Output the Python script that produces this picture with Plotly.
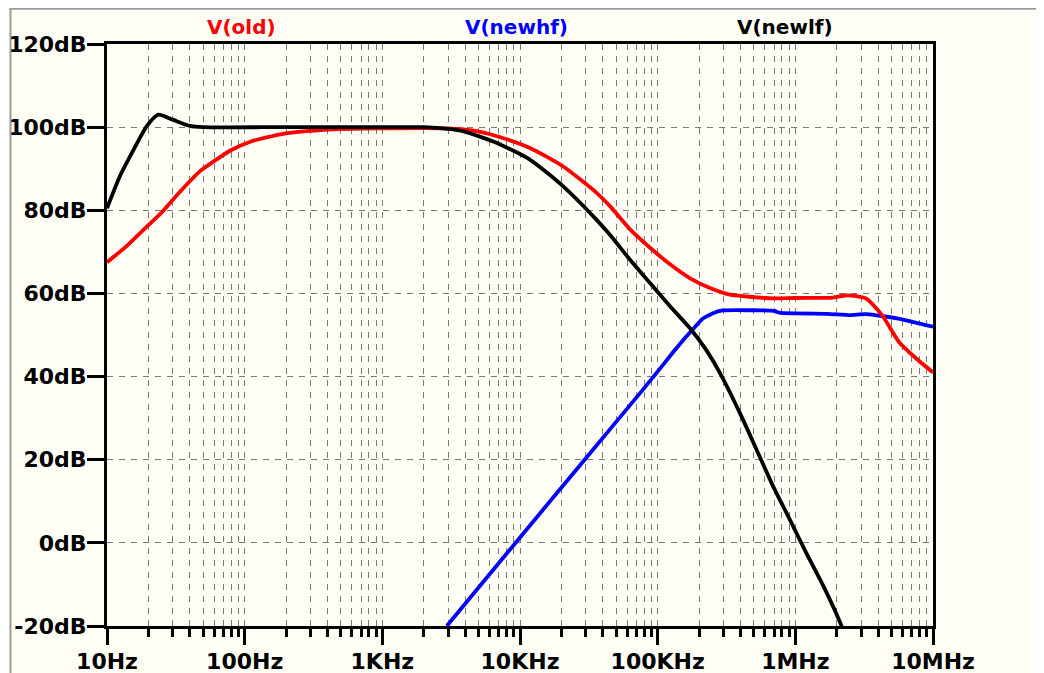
import plotly.graph_objects as go

# ---------------- data ----------------
old_freq = [10, 14, 18.4, 25, 34, 47, 63, 80, 110, 190, 300, 500, 1000, 3000, 4500,
            6800, 11800, 20500, 36000, 45000, 63000, 88000, 123000, 171000, 240000, 334000, 467000,
            700000, 1.0e6, 1.87e6, 2.3e6, 2.7e6, 3.3e6, 4.3e6, 5.7e6, 7.7e6, 1.0e7]
old_db = [67.5, 71.5, 75.3, 79.5, 84.5, 89.3, 92.3, 94.5, 96.5, 98.4, 99.1, 99.5, 99.7, 99.7, 99.2,
          97.8, 95.0, 90.6, 84.2, 81.0, 75.4, 71.0, 67.0, 63.7, 61.3, 59.7, 59.2,
          58.8, 58.9, 59.0, 59.5, 59.4, 58.7, 54.6, 48.2, 44.1, 41.0]

newhf_freq = [2940, 10000, 30000, 74000, 104000, 129000, 160000, 185000, 210000, 250000, 297000,
              700000, 780000, 1.69e6, 2.5e6, 3.3e6, 5.7e6, 1.0e7]
newhf_db = [-20.0, 1.3, 20.3, 35.9, 41.9, 45.8, 49.5, 51.8, 53.8, 55.2, 55.9,
            55.8, 55.3, 55.1, 54.8, 55.0, 53.9, 52.0]

newlf_freq = [10, 12.4, 15, 19.4, 23.6, 30, 40, 50, 200, 1000, 2000, 3000, 3900, 6800, 11800,
              20500, 36000, 45000, 63000, 88000, 123000, 171000, 220000, 283000, 396000, 523000,
              690000, 912000, 1.2e6, 1.6e6, 2.1e6, 2.25e6]
newlf_db = [80.5, 88.2, 93.5, 100.2, 103.0, 101.8, 100.3, 100.0, 100.0, 100.0, 100.0, 99.6, 99.0, 96.2, 92.2,
            85.8, 77.7, 74.1, 68.1, 62.5, 56.9, 51.7, 46.9, 40.9, 31.2, 22.4,
            13.6, 5.6, -2.4, -10.4, -18.9, -21.5]

x_tickvals = [10, 100, 1e3, 1e4, 1e5, 1e6, 1e7]
x_ticktext = ["10Hz", "100Hz", "1KHz", "10KHz", "100KHz", "1MHz", "10MHz"]
y_tickvals = [-20, 0, 20, 40, 60, 80, 100, 120]
y_ticktext = ["-20dB", "0dB", "20dB", "40dB", "60dB", "80dB", "100dB", "120dB"]

series_names = ["V(old)", "V(newhf)", "V(newlf)"]
series_colors = ["#ff0000", "#0000ff", "#000000"]

# ---------------- figure ----------------
# the page body adds an 8px offset; the figure is sized to fill the rest of the window
OFF = 8
W, H = 1044 - OFF, 673 - OFF
L, R, T, B = 107 - OFF, 111, 44 - OFF, 47
pw, ph = W - L - R, H - T - B

def px_x(px):
    return (px - OFF - L) / pw

def px_y(py):
    return (H - B - (py - OFF)) / ph

minor_vals = []
for d in range(1, 7):
    for m in range(2, 10):
        minor_vals.append(m * 10 ** d)

fig = go.Figure()
fig.add_trace(go.Scatter(x=newhf_freq, y=newhf_db, mode="lines", name=series_names[1],
                         line=dict(color=series_colors[1], width=3.8, shape="spline", smoothing=0.4)))
fig.add_trace(go.Scatter(x=old_freq, y=old_db, mode="lines", name=series_names[0],
                         line=dict(color=series_colors[0], width=3.8, shape="spline", smoothing=0.6)))
fig.add_trace(go.Scatter(x=newlf_freq, y=newlf_db, mode="lines", name=series_names[2],
                         line=dict(color=series_colors[2], width=3.8, shape="spline", smoothing=0.6)))

cream = "#fffff6"
tickfont = dict(family="DejaVu Sans", size=22, color="black", weight="bold")
grid_color = "#7a7a7a"
dash = "6px,6px"

fig.update_layout(
    width=W, height=H,
    margin=dict(l=L, r=R, t=T, b=B, autoexpand=False),
    paper_bgcolor=cream, plot_bgcolor=cream,
    showlegend=False,
    xaxis=dict(
        type="log", range=[1, 7], automargin=False,
        tickmode="array", tickvals=x_tickvals, ticktext=x_ticktext,
        tickfont=tickfont, ticklabelstandoff=-2,
        ticks="outside", ticklen=16, tickwidth=3, tickcolor="black",
        showline=True, linewidth=3, linecolor="black", mirror=True,
        showgrid=True, gridcolor=grid_color, gridwidth=1, griddash=dash,
        zeroline=False,
        minor=dict(tickvals=minor_vals, ticks="outside", ticklen=8, tickwidth=3,
                   tickcolor="black", showgrid=True, gridcolor=grid_color,
                   gridwidth=1, griddash=dash),
    ),
    yaxis=dict(
        range=[-20, 120], automargin=False,
        tickmode="array", tickvals=y_tickvals, ticktext=y_ticktext,
        tickfont=tickfont, ticklabelstandoff=-4,
        ticks="outside", ticklen=17, tickwidth=3, tickcolor="black",
        showline=True, linewidth=3, linecolor="black", mirror=True,
        showgrid=True, gridcolor=grid_color, gridwidth=1, griddash=dash,
        zeroline=False,
    ),
)

# series labels above the plot
label_x = [241, 516, 785]
for name, col, lx in zip(series_names, series_colors, label_x):
    fig.add_annotation(text=name, x=px_x(lx), y=px_y(27), xref="paper", yref="paper",
                       xanchor="center", yanchor="middle", showarrow=False,
                       font=dict(family="DejaVu Sans", size=20, color=col, weight="bold"))

# window frame: gray border line along the top and left edges
fig.add_shape(type="line", xref="paper", yref="paper",
              x0=px_x(9.5), x1=px_x(1050), y0=px_y(8.8), y1=px_y(8.8),
              line=dict(color="#9a9a9a", width=2))
fig.add_shape(type="line", xref="paper", yref="paper",
              x0=px_x(10.5), x1=px_x(10.5), y0=px_y(8), y1=px_y(680),
              line=dict(color="#9a9a9a", width=2))

fig.write_html("out.html")
